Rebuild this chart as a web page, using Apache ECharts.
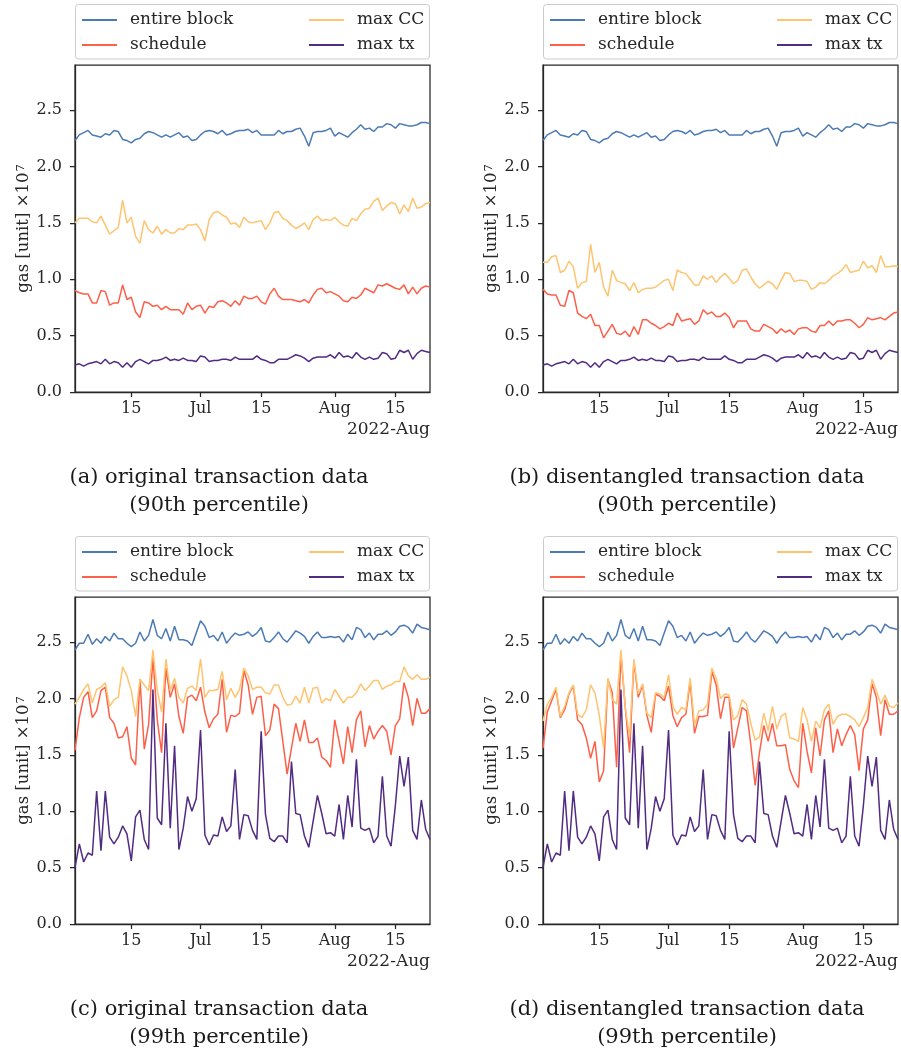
<!DOCTYPE html>
<html><head><meta charset="utf-8">
<script src="https://cdn.jsdelivr.net/npm/echarts@6/dist/echarts.min.js"></script>
<style>html,body{margin:0;padding:0;background:#fff}#chart{width:901px;height:1053px}</style>
</head><body><div id="chart"></div>
<script>
// ---------- data ----------
const nDays = 83; // 2022-06-02 .. 2022-08-23
const tickDates = ['2022-06-15','2022-07-01','2022-07-15','2022-08-01','2022-08-15'];
const tickLabels = ['15','Jul','15','Aug','15'];
const yTicks = [0, 0.5, 1.0, 1.5, 2.0, 2.5];
const seriesNames = ['entire block','schedule','max CC','max tx'];
const offsetLabel = '2022-Aug';
const yName = 'gas [unit] ×10{sup|7}';
const captions = [
  ['(a) original transaction data','(90th percentile)'],
  ['(b) disentangled transaction data','(90th percentile)'],
  ['(c) original transaction data','(99th percentile)'],
  ['(d) disentangled transaction data','(99th percentile)']
];

// 90th percentile
const aEntire = [2.23,2.28,2.30,2.32,2.28,2.27,2.26,2.29,2.28,2.32,
 2.31,2.24,2.23,2.21,2.24,2.25,2.29,2.31,2.30,2.28,
 2.26,2.28,2.26,2.28,2.30,2.26,2.27,2.23,2.24,2.28,
 2.31,2.32,2.31,2.29,2.32,2.28,2.29,2.31,2.32,2.32,
 2.33,2.30,2.32,2.28,2.28,2.28,2.28,2.32,2.29,2.31,
 2.31,2.33,2.34,2.27,2.18,2.30,2.31,2.31,2.32,2.34,
 2.27,2.30,2.28,2.26,2.30,2.33,2.37,2.33,2.34,2.31,
 2.35,2.35,2.38,2.37,2.34,2.38,2.37,2.36,2.36,2.37,
 2.39,2.39,2.38];
const aMaxCC = [1.50,1.54,1.54,1.54,1.51,1.50,1.56,1.48,1.40,1.43,
 1.46,1.70,1.50,1.55,1.38,1.32,1.52,1.44,1.41,1.47,
 1.40,1.44,1.41,1.41,1.45,1.44,1.48,1.48,1.49,1.44,
 1.34,1.53,1.59,1.60,1.57,1.55,1.49,1.50,1.46,1.55,
 1.51,1.50,1.51,1.52,1.44,1.50,1.59,1.60,1.54,1.52,
 1.48,1.45,1.47,1.50,1.44,1.53,1.56,1.52,1.53,1.52,
 1.55,1.51,1.48,1.47,1.54,1.52,1.58,1.62,1.63,1.69,
 1.72,1.61,1.65,1.68,1.67,1.58,1.66,1.60,1.72,1.63,
 1.64,1.67,1.68];
const aSched = [0.90,0.88,0.87,0.87,0.79,0.79,0.90,0.89,0.77,0.79,
 0.79,0.95,0.82,0.84,0.71,0.66,0.80,0.79,0.76,0.77,
 0.73,0.76,0.73,0.73,0.73,0.69,0.79,0.73,0.76,0.77,
 0.70,0.76,0.75,0.80,0.81,0.79,0.76,0.81,0.77,0.85,
 0.83,0.83,0.85,0.80,0.78,0.87,0.92,0.85,0.82,0.82,
 0.82,0.81,0.80,0.82,0.79,0.86,0.91,0.92,0.88,0.89,
 0.87,0.85,0.81,0.80,0.84,0.83,0.86,0.92,0.90,0.88,
 0.95,0.94,0.96,0.94,0.92,0.91,0.95,0.87,0.93,0.87,
 0.92,0.94,0.93];
const aMaxTx = [0.24,0.25,0.23,0.25,0.26,0.27,0.25,0.29,0.25,0.27,
 0.26,0.22,0.26,0.22,0.27,0.29,0.27,0.25,0.28,0.28,
 0.29,0.31,0.28,0.29,0.28,0.30,0.28,0.28,0.27,0.32,
 0.31,0.27,0.28,0.28,0.29,0.29,0.28,0.31,0.29,0.29,
 0.29,0.29,0.32,0.29,0.28,0.26,0.26,0.29,0.29,0.29,
 0.31,0.33,0.32,0.30,0.27,0.30,0.31,0.31,0.31,0.33,
 0.30,0.35,0.31,0.32,0.30,0.35,0.31,0.29,0.31,0.29,
 0.30,0.35,0.34,0.29,0.30,0.37,0.35,0.37,0.29,0.34,
 0.37,0.36,0.35];
const bMaxCC = [1.15,1.15,1.20,1.21,1.06,1.08,1.16,1.11,0.92,0.97,
 0.98,1.31,1.06,1.15,0.93,0.85,1.08,0.99,0.97,0.96,
 0.90,0.97,0.88,0.91,0.92,0.92,0.93,0.96,0.99,1.00,
 0.90,1.08,1.06,1.05,1.00,0.95,0.95,1.03,1.00,1.03,
 0.97,1.02,1.05,1.01,0.96,0.99,1.08,1.09,1.02,0.96,
 0.92,0.95,0.98,0.96,0.91,0.99,1.06,1.05,0.98,0.99,
 0.99,0.98,0.91,0.93,0.97,0.96,0.99,1.03,1.05,1.08,
 1.13,1.06,1.07,1.08,1.16,1.10,1.12,1.06,1.21,1.11,
 1.11,1.12,1.11];
const bSched = [0.91,0.87,0.86,0.86,0.77,0.76,0.90,0.88,0.70,0.67,
 0.65,0.69,0.59,0.59,0.48,0.54,0.60,0.52,0.51,0.54,
 0.49,0.58,0.51,0.64,0.64,0.61,0.59,0.56,0.58,0.61,
 0.59,0.70,0.63,0.64,0.65,0.60,0.63,0.73,0.69,0.71,
 0.67,0.67,0.70,0.66,0.57,0.63,0.63,0.63,0.56,0.54,
 0.54,0.60,0.58,0.56,0.52,0.56,0.53,0.55,0.51,0.56,
 0.57,0.57,0.54,0.53,0.59,0.59,0.63,0.59,0.63,0.63,
 0.64,0.64,0.61,0.57,0.60,0.66,0.64,0.65,0.66,0.64,
 0.67,0.70,0.71];

// 99th percentile
const cEntire = [2.43,2.49,2.49,2.57,2.48,2.53,2.49,2.55,2.51,2.58,
 2.53,2.53,2.49,2.46,2.49,2.59,2.51,2.56,2.70,2.56,
 2.53,2.62,2.51,2.64,2.52,2.52,2.51,2.47,2.58,2.69,
 2.64,2.54,2.56,2.51,2.59,2.49,2.54,2.58,2.56,2.57,
 2.59,2.55,2.58,2.63,2.51,2.50,2.54,2.59,2.53,2.50,
 2.55,2.60,2.58,2.55,2.49,2.55,2.59,2.54,2.54,2.55,
 2.54,2.55,2.50,2.57,2.52,2.63,2.61,2.54,2.58,2.52,
 2.57,2.57,2.60,2.56,2.59,2.64,2.65,2.63,2.58,2.66,
 2.63,2.62,2.61];
const cMaxCC = [1.95,2.01,2.08,2.13,1.96,2.08,2.10,2.14,1.93,1.99,
 2.01,2.28,2.20,2.07,1.84,2.17,2.12,2.07,2.43,2.07,
 1.88,2.35,2.07,2.18,2.01,1.96,2.09,2.11,2.07,2.35,
 2.01,2.07,2.07,2.08,2.24,1.99,2.09,2.01,2.08,2.27,
 2.20,2.08,2.10,2.10,2.05,2.04,2.12,2.12,2.01,1.94,
 1.95,2.02,1.96,2.10,1.96,2.09,2.10,1.96,2.00,1.98,
 2.08,2.02,1.96,2.01,2.01,2.05,2.13,2.07,2.11,2.16,
 2.16,2.08,2.11,2.12,2.15,2.15,2.28,2.20,2.17,2.21,
 2.17,2.17,2.19];
const cSched = [1.54,1.83,2.01,2.06,1.83,1.89,2.07,2.10,1.83,1.78,
 1.65,1.66,1.75,1.47,1.41,2.17,1.55,1.77,2.36,1.81,
 1.52,2.27,2.01,2.13,1.84,1.69,2.01,2.03,1.98,2.10,
 1.88,1.74,1.82,1.86,2.17,1.70,1.85,1.84,1.87,2.25,
 2.12,1.86,2.01,2.02,1.67,1.72,1.95,1.91,1.62,1.33,
 1.56,1.78,1.62,1.81,1.61,1.61,1.65,1.48,1.45,1.39,
 1.81,1.62,1.42,1.75,1.52,1.81,1.89,1.57,1.76,1.64,
 1.71,1.76,1.71,1.50,1.76,1.82,2.14,2.01,1.76,2.00,
 1.87,1.87,1.91];
const cMaxTx = [0.50,0.71,0.55,0.63,0.61,1.18,0.65,1.18,0.77,0.71,
 0.77,0.87,0.80,0.56,0.95,1.01,0.75,0.66,2.08,0.94,
 0.88,1.78,0.85,1.58,0.66,0.85,1.13,1.00,1.11,1.72,
 0.79,0.70,0.79,0.78,0.95,0.82,0.87,1.37,0.75,0.97,
 0.96,0.83,0.75,1.71,0.97,0.76,0.73,0.78,0.78,0.72,
 1.44,0.98,0.97,0.78,0.68,0.91,1.14,0.98,0.80,0.81,
 0.78,1.06,0.75,1.14,0.86,1.46,0.85,0.83,0.85,0.72,
 0.78,1.31,0.78,0.69,1.05,1.49,1.22,1.48,0.83,0.75,
 1.10,0.84,0.75];
const dMaxCC = [1.80,1.95,2.01,2.10,1.84,1.93,2.05,2.12,1.86,1.83,
 1.90,2.12,2.05,1.85,1.56,2.18,1.99,1.95,2.43,1.92,
 1.66,2.35,2.04,2.13,1.87,1.83,2.05,2.04,2.01,2.21,
 1.93,1.86,1.92,1.90,2.18,1.76,1.89,1.90,1.95,2.27,
 2.18,2.00,2.04,2.03,1.81,1.85,1.99,1.95,1.78,1.63,
 1.66,1.87,1.71,1.93,1.73,1.84,1.87,1.65,1.64,1.62,
 1.92,1.81,1.62,1.80,1.74,1.90,1.95,1.77,1.84,1.86,
 1.86,1.84,1.81,1.75,1.83,1.92,2.17,2.07,1.95,2.03,
 1.93,1.92,1.96];
const dSched = [1.56,1.88,1.98,2.08,1.83,1.90,2.04,2.11,1.81,1.77,
 1.65,1.47,1.62,1.26,1.36,2.17,2.05,1.39,2.40,1.92,
 1.52,2.33,2.01,2.12,1.85,1.70,2.04,2.02,1.98,2.11,
 1.85,1.75,1.83,1.86,2.15,1.69,1.84,1.84,1.85,2.24,
 2.12,1.82,2.01,2.01,1.56,1.74,1.92,1.89,1.59,1.23,
 1.52,1.76,1.62,1.78,1.58,1.58,1.59,1.37,1.27,1.21,
 1.78,1.53,1.34,1.74,1.49,1.81,1.89,1.52,1.73,1.58,
 1.68,1.76,1.68,1.36,1.73,1.81,2.13,2.01,1.67,1.99,
 1.86,1.86,1.89];

// ---------- build ----------
const dates = [];
for (let i = 0; i < nDays; i++) {
  const d = new Date(Date.UTC(2022, 5, 2 + i));
  dates.push(d.toISOString().slice(0, 10));
}
const FONT = 'DejaVu Serif';
const INK = '#262626';
const colors = ['#4c7ab5', '#fc6049', '#fec46f', '#522b82'];
const W = 355, H = 327;
const panels = [
  {left: 75,  top: 65,  data: [aEntire, aSched, aMaxCC, aMaxTx]},
  {left: 543, top: 65,  data: [aEntire, bSched, bMaxCC, aMaxTx]},
  {left: 75,  top: 597, data: [cEntire, cSched, cMaxCC, cMaxTx]},
  {left: 543, top: 597, data: [cEntire, dSched, dMaxCC, cMaxTx]}
];

const grid = [], xAxis = [], yAxis = [], series = [], legend = [], graphic = [];
const isTick = (i, v) => tickDates.indexOf(v) >= 0;
panels.forEach((p, k) => {
  grid.push({left: p.left, top: p.top, width: W, height: H, show: true,
    borderColor: INK, borderWidth: 1.25, backgroundColor: 'transparent', containLabel: false});
  xAxis.push({type: 'category', gridIndex: k, data: dates, boundaryGap: false,
    axisLine: {show: true, onZero: false, lineStyle: {color: INK, width: 1.25}},
    axisTick: {show: true, interval: isTick, length: 5, lineStyle: {color: INK, width: 1.25}},
    axisLabel: {interval: isTick, formatter: v => tickLabels[tickDates.indexOf(v)],
      fontFamily: FONT, fontSize: 16, color: INK, margin: 9},
    splitLine: {show: false}});
  yAxis.push({type: 'value', gridIndex: k, min: 0, max: 2.9,
    axisLine: {show: true, lineStyle: {color: INK, width: 1.25}},
    axisTick: {show: true, length: 5, customValues: yTicks, lineStyle: {color: INK, width: 1.25}},
    axisLabel: {customValues: yTicks, formatter: v => v.toFixed(1), fontFamily: FONT, fontSize: 16, color: INK, margin: 13},
    splitLine: {show: false},
    name: yName, nameLocation: 'middle', nameGap: 36,
    nameTextStyle: {fontFamily: FONT, fontSize: 16.5, color: INK,
      rich: {sup: {fontFamily: FONT, fontSize: 11.5, color: INK, verticalAlign: 'top', padding: [0, 0, 6, 1]}}}});
  p.data.forEach((arr, s) => {
    series.push({type: 'line', name: seriesNames[s], xAxisIndex: k, yAxisIndex: k, data: arr,
      showSymbol: false, symbol: 'none', z: 2 + s,
      lineStyle: {width: 1.5, color: colors[s]}, itemStyle: {color: colors[s]}, emphasis: {disabled: true}});
  });
  const legBase = {orient: 'vertical', icon: 'rect', itemWidth: 35, itemHeight: 2, itemGap: 7, padding: 0,
    selectedMode: false, z: 10,
    textStyle: {fontFamily: FONT, fontSize: 17, color: INK, lineHeight: 18, padding: [0, 0, 0, 8]}};
  legend.push(Object.assign({}, legBase, {left: p.left + 7, top: p.top - 54, data: [seriesNames[0], seriesNames[1]]}));
  legend.push(Object.assign({}, legBase, {left: p.left + 234, top: p.top - 54, data: [seriesNames[2], seriesNames[3]]}));
  graphic.push({type: 'rect', z: 1, shape: {x: p.left + 0.5, y: p.top - 60.5, width: W - 1, height: 54.5, r: 3},
    style: {fill: '#fff', stroke: '#cccccc', lineWidth: 1}});
  graphic.push({type: 'text', z: 5, style: {text: offsetLabel, x: p.left + W, y: p.top + 365,
    textAlign: 'right', align: 'right', textVerticalAlign: 'middle', verticalAlign: 'middle',
    font: '17px "DejaVu Serif"', fill: INK}});
  const cx = p.left - 75 + 219;
  captions[k].forEach((t, j) => {
    graphic.push({type: 'text', z: 5, style: {text: t, x: cx, y: p.top + 413 + 28 * j,
      textAlign: 'center', align: 'center', textVerticalAlign: 'middle', verticalAlign: 'middle',
      font: '21px "DejaVu Serif"', fill: '#1a1a1a'}});
  });
});

const chart = echarts.init(document.getElementById('chart'), null, {renderer: 'canvas'});
chart.setOption({animation: false, backgroundColor: '#fff', grid, xAxis, yAxis, series, legend, graphic});
</script></body></html>
